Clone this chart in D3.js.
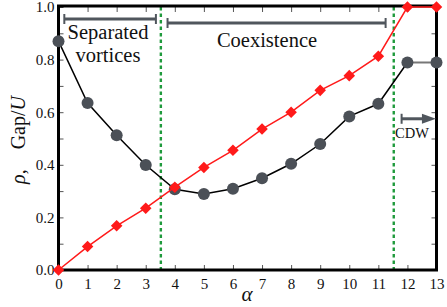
<!DOCTYPE html>
<html>
<head>
<meta charset="utf-8">
<script src="https://cdn.jsdelivr.net/npm/d3@7"></script>
<style>
html,body{margin:0;padding:0;background:#fff;}
svg{display:block;}
</style>
</head>
<body>
<svg id="chart" width="447" height="307"></svg>
<script>
const alphas = [0,1,2,3,4,5,6,7,8,9,10,11,12,13];
const rho    = [0.0,0.089,0.168,0.235,0.315,0.39,0.455,0.536,0.6,0.683,0.739,0.813,1.0,1.0];
const gap    = [0.870,0.635,0.512,0.399,0.307,0.289,0.309,0.349,0.404,0.479,0.584,0.632,0.789,0.789];
const xTicks = [0,1,2,3,4,5,6,7,8,9,10,11,12,13];
const yTickLabels = ["0.0","0.2","0.4","0.6","0.8","1.0"];
const yMinorTicks = [0.1,0.3,0.5,0.7,0.9];
const boundaries = [3.52, 11.53];
const regions = [
  {name:"Separated vortices", from:0.2, to:3.35},
  {name:"Coexistence", from:3.75, to:11.25}
];
const cdw = {from:11.8, to:12.98, y:0.575};

const svg = d3.select("#chart");
const L=58.5, R=436.5, T=7, B=270;
const x = d3.scaleLinear().domain([0,13]).range([L,R]);
const y = d3.scaleLinear().domain([0,1]).range([B,T]);
const serif = "'Liberation Serif', 'Times New Roman', serif";
const annFont = serif;
const gray = "#50565d";

// green dashed boundaries
svg.append("g").selectAll("line").data(boundaries).join("line")
  .attr("x1",d=>x(d)).attr("x2",d=>x(d)).attr("y1",T).attr("y2",B)
  .attr("stroke","#1f9a3c").attr("stroke-width",2.4).attr("stroke-dasharray","3.5,3");

// axes with inward ticks
const axB = d3.axisBottom(x).tickValues(xTicks).tickSize(-5).tickPadding(8).tickFormat(d3.format("d"));
const axT = d3.axisTop(x).tickValues(xTicks).tickSize(-5).tickFormat("");
const yMajor = yTickLabels.map(Number);
const axL = d3.axisLeft(y).tickValues(yMajor).tickSize(-5).tickPadding(4).tickFormat((d,i)=>yTickLabels[i]);
const axLm = d3.axisLeft(y).tickValues(yMinorTicks).tickSize(-5).tickFormat("");
const axR = d3.axisRight(y).tickValues(yMajor.concat(yMinorTicks)).tickSize(-5).tickFormat("");

function style(g){
  g.select(".domain").remove();
  g.selectAll(".tick line").attr("stroke","#555").attr("stroke-width",1);
  g.selectAll("text").attr("font-family",serif).attr("font-size",15).attr("fill","#111");
}
svg.append("g").attr("transform",`translate(0,${B})`).call(axB).call(style);
svg.append("g").attr("transform",`translate(0,${T})`).call(axT).call(style);
svg.append("g").attr("transform",`translate(${L},0)`).call(axL).call(style);
svg.append("g").attr("transform",`translate(${L},0)`).call(axLm).call(style);
svg.append("g").attr("transform",`translate(${R},0)`).call(axR).call(style);

// frame
svg.append("rect").attr("x",L).attr("y",T-1).attr("width",R-L).attr("height",B-T+1)
  .attr("fill","none").attr("stroke","#000").attr("stroke-width",3);

// gap series
const gapPts = alphas.map((a,i)=>[a,gap[i]]);
const line = d3.line().x(d=>x(d[0])).y(d=>y(d[1]));
svg.append("path").datum(gapPts.slice(0,13)).attr("d",line)
  .attr("fill","none").attr("stroke","#000").attr("stroke-width",1.5);
svg.append("path").datum(gapPts.slice(12)).attr("d",line)
  .attr("fill","none").attr("stroke","#777").attr("stroke-width",2);
svg.append("g").selectAll("circle").data(gapPts).join("circle")
  .attr("cx",d=>x(d[0])).attr("cy",d=>y(d[1])).attr("r",6)
  .attr("fill","#4b5057");

// rho series
const rhoPts = alphas.map((a,i)=>[a,rho[i]]);
svg.append("path").datum(rhoPts).attr("d",line)
  .attr("fill","none").attr("stroke","#ff1a1a").attr("stroke-width",1.5);
svg.append("g").selectAll("path").data(rhoPts).join("path")
  .attr("d",d3.symbol().type(d3.symbolDiamond2).size(85))
  .attr("transform",d=>`translate(${x(d[0])},${y(d[1])})`)
  .attr("fill","#ff1a1a");

// region brackets
const br = svg.append("g");
const bY = [19, 23];
regions.forEach((r,i)=>{
  const yy = bY[i];
  br.append("line").attr("x1",x(r.from)).attr("x2",x(r.to)).attr("y1",yy).attr("y2",yy)
    .attr("stroke",gray).attr("stroke-width",3);
  [r.from,r.to].forEach(v=>br.append("line").attr("x1",x(v)).attr("x2",x(v))
    .attr("y1",yy-5).attr("y2",yy+5).attr("stroke",gray).attr("stroke-width",2));
});
br.append("text").attr("x",108).attr("y",39).attr("text-anchor","middle")
  .attr("font-family",annFont).attr("font-size",20.5).attr("fill","#111").text("Separated");
br.append("text").attr("x",108).attr("y",62).attr("text-anchor","middle")
  .attr("font-family",annFont).attr("font-size",20.5).attr("fill","#111").text("vortices");
br.append("text").attr("x",267).attr("y",47).attr("text-anchor","middle")
  .attr("font-family",annFont).attr("font-size",20.5).attr("fill","#111").text("Coexistence");

// CDW arrow
const ay = y(cdw.y);
br.append("line").attr("x1",x(cdw.from)).attr("x2",x(cdw.to)-12).attr("y1",ay).attr("y2",ay)
  .attr("stroke",gray).attr("stroke-width",3);
br.append("line").attr("x1",x(cdw.from)).attr("x2",x(cdw.from)).attr("y1",ay-5).attr("y2",ay+5)
  .attr("stroke",gray).attr("stroke-width",2);
br.append("path").attr("d",`M${x(cdw.to)},${ay} L${x(cdw.to)-14},${ay-5} L${x(cdw.to)-14},${ay+5} Z`)
  .attr("fill",gray);
br.append("text").attr("x",412).attr("y",138).attr("text-anchor","middle")
  .attr("font-family",annFont).attr("font-size",14.5).attr("fill","#111").text("CDW");

// axis labels
svg.append("text").attr("x",247).attr("y",301).attr("text-anchor","middle")
  .attr("font-family",serif).attr("font-style","italic").attr("font-size",21).attr("fill","#111").text("α");
const yl = svg.append("text").attr("transform","translate(25,140) rotate(-90)")
  .attr("text-anchor","middle").attr("font-family",serif).attr("font-size",20).attr("fill","#111");
yl.append("tspan").attr("font-style","italic").text("ρ");
yl.append("tspan").text(",\u2002\u2002Gap/");
yl.append("tspan").attr("font-style","italic").text("U");
</script>
</body>
</html>
